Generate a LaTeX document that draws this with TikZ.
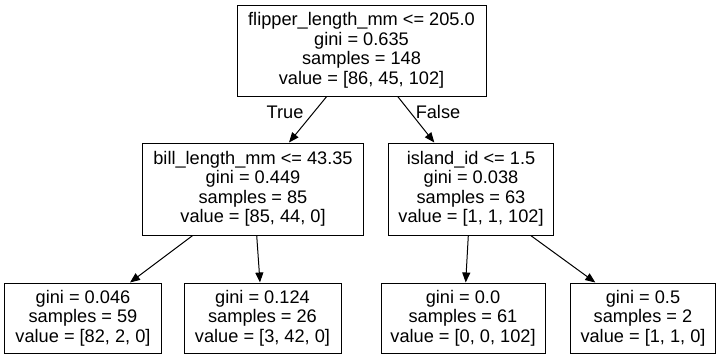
\documentclass[tikz,border=0pt]{standalone}
\usepackage{fontspec}
\setmainfont{Liberation Sans}
\usetikzlibrary{arrows.meta}
\begin{document}
\begin{tikzpicture}[x=1bp,y=-1bp,
  box/.style={draw=black,line width=1bp,rectangle,inner sep=0pt,align=center,
    font=\fontsize{18.2bp}{19.5bp}\selectfont},
  arr/.style={draw=black,line width=1bp,-{Triangle[length=10bp,width=8bp]}},
  lab/.style={font=\fontsize{18.2bp}{19.5bp}\selectfont,inner sep=0pt}]
\useasboundingbox[fill=white] (0,0) rectangle (721,359);
\node[box,minimum width=249bp,minimum height=91bp] (root) at (361.5,50.5)
  {flipper\_length\_mm <= 205.0\\gini = 0.635\\samples = 148\\value = [86, 45, 102]};
\node[box,minimum width=221bp,minimum height=92bp] (lc) at (253,189)
  {bill\_length\_mm <= 43.35\\gini = 0.449\\samples = 85\\value = [85, 44, 0]};
\node[box,minimum width=165bp,minimum height=92bp] (rc) at (471,189)
  {island\_id <= 1.5\\gini = 0.038\\samples = 63\\value = [1, 1, 102]};
\node[box,minimum width=156bp,minimum height=70bp] (l1) at (83,318)
  {gini = 0.046\\samples = 59\\value = [82, 2, 0]};
\node[box,minimum width=157bp,minimum height=70bp] (l2) at (262.5,318)
  {gini = 0.124\\samples = 26\\value = [3, 42, 0]};
\node[box,minimum width=164bp,minimum height=70bp] (l3) at (463,318)
  {gini = 0.0\\samples = 61\\value = [0, 0, 102]};
\node[box,minimum width=145bp,minimum height=70bp] (l4) at (643,318)
  {gini = 0.5\\samples = 2\\value = [1, 1, 0]};
\draw[arr] ([xshift=-34.8bp]root.south) -- ([xshift=36bp]lc.north);
\draw[arr] ([xshift=36.2bp]root.south) -- ([xshift=-36.7bp]rc.north);
\draw[arr] ([xshift=-60.3bp]lc.south) -- ([xshift=47bp]l1.north);
\draw[arr] ([xshift=3.7bp]lc.south) -- ([xshift=-2.5bp]l2.north);
\draw[arr] ([xshift=-2.7bp]rc.south) -- ([xshift=2.7bp]l3.north);
\draw[arr] ([xshift=59.7bp]rc.south) -- ([xshift=-47.7bp]l4.north);
\node[lab] (tl) at (285,112) {True};
\node[lab] (fl) at (438,112) {False};
\end{tikzpicture}
\end{document}
